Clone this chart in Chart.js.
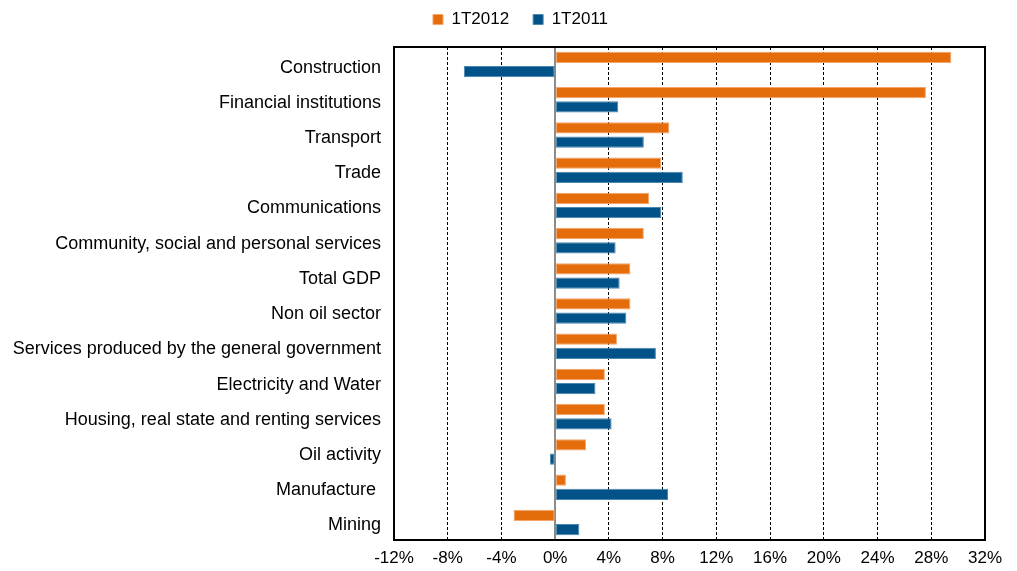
<!DOCTYPE html>
<html>
<head>
<meta charset="utf-8">
<script src="https://cdn.jsdelivr.net/npm/chart.js@4/dist/chart.umd.min.js"></script>
<style>
  html, body { margin: 0; padding: 0; background: #ffffff; }
  #wrap { width: 1017px; height: 571px; }
</style>
</head>
<body>
<div id="wrap"><canvas id="c" width="1017" height="571"></canvas></div>
<script>
const categories = [
  "Construction",
  "Financial institutions",
  "Transport",
  "Trade",
  "Communications",
  "Community, social and personal services",
  "Total GDP",
  "Non oil sector",
  "Services produced by the general government",
  "Electricity and Water",
  "Housing, real state and renting services",
  "Oil activity",
  "Manufacture ",
  "Mining"
];
const series2012Label = "1T2012";
const series2011Label = "1T2011";
const values2012 = [29.5, 27.6, 8.5, 7.9, 7.0, 6.6, 5.6, 5.6, 4.6, 3.7, 3.7, 2.3, 0.8, -3.1];
const values2011 = [-6.8, 4.7, 6.6, 9.5, 7.9, 4.5, 4.8, 5.3, 7.5, 3.0, 4.2, -0.4, 8.4, 1.8];
const xTicks = [-12, -8, -4, 0, 4, 8, 12, 16, 20, 24, 28, 32];

const FONT = 'Liberation Sans, Arial, sans-serif';

const frameAndZero = {
  id: 'frameAndZero',
  beforeDatasetsDraw(chart) {
    const ctx = chart.ctx, a = chart.chartArea, x = chart.scales.x;
    ctx.save();
    const z = Math.round(x.getPixelForValue(0));
    ctx.strokeStyle = '#8c8c8c';
    ctx.lineWidth = 2;
    ctx.beginPath(); ctx.moveTo(z, a.top); ctx.lineTo(z, a.bottom); ctx.stroke();
    ctx.restore();
  },
  afterDraw(chart) {
    const ctx = chart.ctx, a = chart.chartArea;
    ctx.save();
    ctx.strokeStyle = '#000000';
    ctx.lineWidth = 2;
    ctx.strokeRect(a.left, a.top, a.right - a.left, a.bottom - a.top);
    ctx.restore();
  }
};
const legendTweak = {
  id: 'legendTweak',
  beforeInit(chart) {
    const lg = chart.legend;
    const origFit = lg.fit;
    lg.fit = function () { origFit.call(this); this.height = 60; };
    const origDraw = lg.draw;
    lg.draw = function () {
      const ctx = this.ctx;
      ctx.save();
      ctx.translate(28, 0);
      origDraw.call(this);
      ctx.restore();
    };
  }
};

new Chart(document.getElementById('c'), {
  type: 'bar',
  data: {
    labels: categories,
    datasets: [
      { label: series2012Label, data: values2012, backgroundColor: '#E46C0A', borderColor: '#F3A56A', borderWidth: 1, borderSkipped: false },
      { label: series2011Label, data: values2011, backgroundColor: '#005288', borderColor: '#4C87B0', borderWidth: 1, borderSkipped: false }
    ]
  },
  options: {
    indexAxis: 'y',
    responsive: false,
    animation: false,
    devicePixelRatio: 1,
    categoryPercentage: 0.81,
    barPercentage: 0.79,
    layout: { padding: { left: 0, right: 32, top: -13, bottom: 0 } },
    plugins: {
      legend: {
        position: 'top',
        align: 'center',
        labels: {
          boxWidth: 10, boxHeight: 10, padding: 24,
          color: '#000000',
          font: { family: FONT, size: 17 }
        }
      },
      tooltip: { enabled: false }
    },
    scales: {
      x: {
        min: -12, max: 32,
        afterBuildTicks(scale) { scale.ticks = xTicks.map(v => ({ value: v })); },
        afterFit(scale) { scale.height = 31; },
        ticks: {
          padding: 8,
          color: '#000000',
          font: { family: FONT, size: 17 },
          callback: v => v + '%'
        },
        grid: { color: '#000000', lineWidth: 1, drawTicks: false },
        border: { display: false, dash: [3, 2] }
      },
      y: {
        afterFit(scale) { scale.width = 394; },
        ticks: {
          padding: 13,
          labelOffset: 3,
          color: '#000000',
          font: { family: FONT, size: 18 }
        },
        grid: { display: false, drawTicks: false },
        border: { display: false }
      }
    }
  },
  plugins: [frameAndZero, legendTweak]
});
</script>
</body>
</html>
